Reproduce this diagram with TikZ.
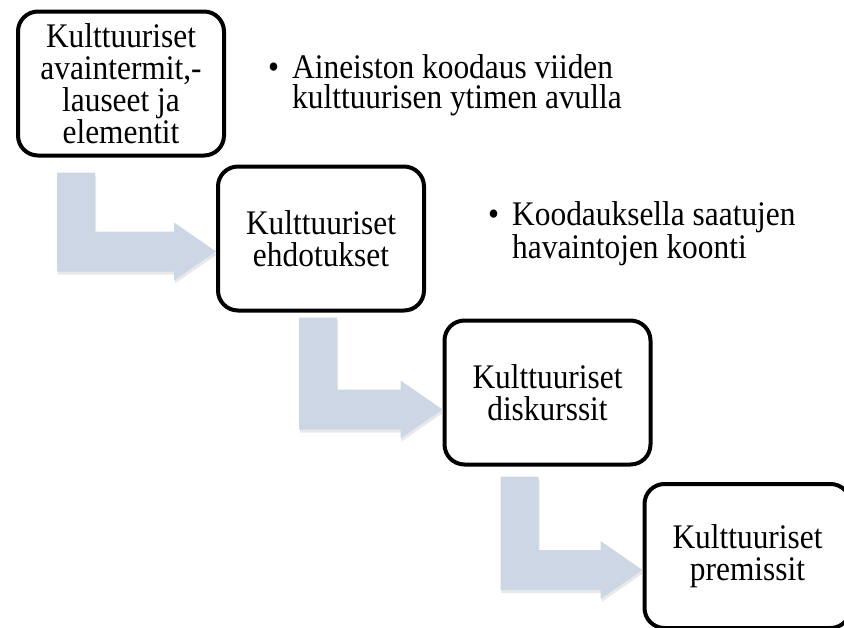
\documentclass[tikz,border=0pt]{standalone}
\usepackage{fontspec}
\setmainfont[FakeStretch=0.91]{Liberation Serif}
\usepackage{tikz}
\usetikzlibrary{calc}
\usetikzlibrary{shadows}
\definecolor{stepblue}{RGB}{204,214,228}
\tikzset{
    stepbox/.style={draw=black, line width=4pt, rounded corners=20pt, fill=white,
        minimum width=206pt, minimum height=144pt, inner sep=0pt,
        align=center, font=\fontsize{34.5}{32}\selectfont},
    notetext/.style={anchor=base west, inner sep=0pt, align=left,
        font=\fontsize{34.5}{30}\selectfont},
    flowarrow/.style={fill=stepblue, drop shadow={opacity=0.18, shadow xshift=1pt, shadow yshift=-3pt}}}
% #1 source, #2/#3 offset of the bar from its south west corner, #4 target, #5 drop of the tip
\newcommand{\steparrow}[5]{%
    \fill[flowarrow] let \p1=($(#1.south west)+(#2,#3)$), \p2=($(#4.west)+(0,#5)$) in
        (\x1,\y1) -- (\x1+38pt,\y1) -- (\x1+38pt,\y2+20pt) -- (\x2-42pt,\y2+20pt)
        -- (\x2-42pt,\y2+29pt) -- (\x2,\y2) -- (\x2-42pt,\y2-29pt)
        -- (\x2-42pt,\y2-20pt) -- (\x1,\y2-20pt) -- cycle;}

\begin{document}
\begin{tikzpicture}[x=1pt, y=-1pt]
        \useasboundingbox (0,0) rectangle (844,627);

                    \node[stepbox] (A) at (121,83.5) {Kulttuuriset\\avaintermit,-\\lauseet ja\\elementit};
                    \node[stepbox] (B) at (321,238.5) {Kulttuuriset\\ehdotukset};
                    \node[stepbox] (C) at (547.5,392.5) {Kulttuuriset\\diskurssit};
                    \node[stepbox] (D) at (747.5,556) {Kulttuuriset\\premissit};

                    \node[notetext] (E) at (292,108) {\llap{\textbullet\hspace{13pt}}Aineiston koodaus viiden\\kulttuurisen ytimen avulla};
                    \node[notetext] (F) at (512,258) {\llap{\textbullet\hspace{13pt}}Koodauksella saatujen\\havaintojen koonti};

                    \steparrow{A}{41}{15}{B}{13}
                    \steparrow{B}{83}{5}{C}{17}
                    \steparrow{C}{58}{10}{D}{14}

                \end{tikzpicture}
\end{document}
